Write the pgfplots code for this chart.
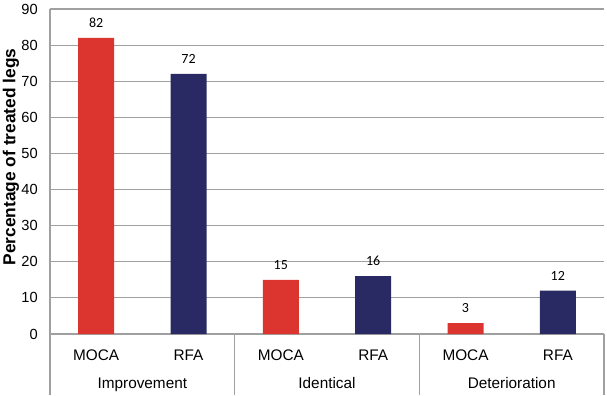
\documentclass[border=0pt]{standalone}
\usepackage{fontspec}
\setmainfont{Liberation Sans}
\newfontfamily\carlito{Carlito}
\usepackage{pgfplots}
\pgfplotsset{compat=1.18}
\definecolor{mocared}{RGB}{220,53,48}
\definecolor{rfablue}{RGB}{41,41,99}
\definecolor{gridgray}{RGB}{160,160,160}
\begin{document}
\begin{tikzpicture}
\begin{axis}[
  name=ax,
  at={(0,0)}, anchor=south west,
  scale only axis,
  width=415.5pt, height=243.75pt,
  xmin=-0.5, xmax=5.5,
  ymin=0, ymax=90,
  ytick={0,10,...,90},
  xtick={0,1,2,3,4,5},
  xticklabels={MOCA,RFA,MOCA,RFA,MOCA,RFA},
  axis x line*=bottom,
  axis y line*=left,
  axis line style={gridgray, line width=0.8pt, -},
  ymajorgrids,
  grid style={gridgray, line width=0.8pt},
  major tick length=0pt,
  /pgf/number format/assume math mode=true,
  yticklabel style={font=\fontsize{11}{13}\selectfont, anchor=east, inner sep=0pt, xshift=-9pt},
  xticklabel style={font=\fontsize{11.5}{13}\selectfont, anchor=base, inner sep=0pt, yshift=-19.5pt},
  ylabel={Percentage of treated legs},
  ylabel style={font=\bfseries\fontsize{13}{15}\selectfont, at={(axis description cs:-0.0704,0.5446)}, anchor=center},
  ybar, bar width=27pt, bar shift=0pt,
  nodes near coords,
  every node near coord/.append style={font=\carlito\fontsize{10.5}{12}\selectfont, anchor=base, inner sep=0pt, yshift=8pt, text=black},
  clip=false,
]
\addplot[fill=mocared, draw=none] coordinates {(0,82) (2,15) (4,3)};
\addplot[fill=rfablue, draw=none] coordinates {(1,72) (3,16) (5,12)};
\draw[gridgray, line width=0.8pt] (axis cs:-0.5,0) -- ([yshift=-45.75pt]axis cs:-0.5,0);
\draw[gridgray, line width=0.8pt] (axis cs:1.5,0) -- ([yshift=-45.75pt]axis cs:1.5,0);
\draw[gridgray, line width=0.8pt] (axis cs:3.5,0) -- ([yshift=-45.75pt]axis cs:3.5,0);
\draw[gridgray, line width=0.8pt] (axis cs:5.5,0) -- ([yshift=-45.75pt]axis cs:5.5,0);
\node[font=\fontsize{11.5}{13}\selectfont, anchor=base, inner sep=0pt] at ([yshift=-40.5pt]axis cs:0.5,0) {Improvement};
\node[font=\fontsize{11.5}{13}\selectfont, anchor=base, inner sep=0pt] at ([yshift=-40.5pt]axis cs:2.5,0) {Identical};
\node[font=\fontsize{11.5}{13}\selectfont, anchor=base, inner sep=0pt] at ([yshift=-40.5pt]axis cs:4.5,0) {Deterioration};
\end{axis}
\pgfresetboundingbox
\path[use as bounding box] ([xshift=-37.5pt,yshift=-45.75pt]ax.south west) rectangle ([xshift=2.25pt,yshift=6.75pt]ax.north east);
\end{tikzpicture}
\end{document}
